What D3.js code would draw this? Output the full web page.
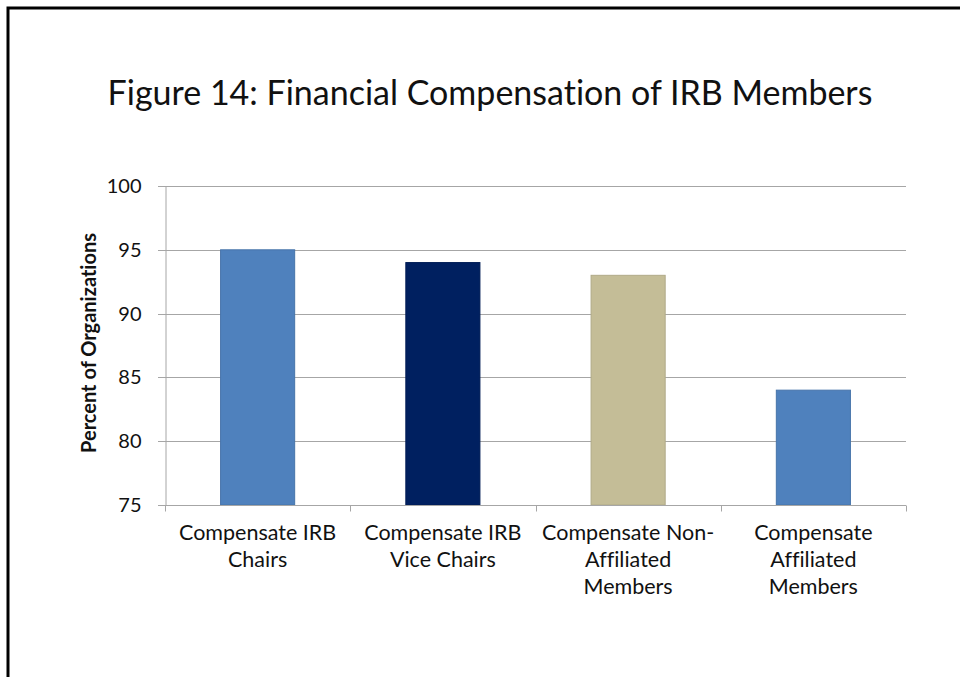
<!DOCTYPE html>
<html>
<head>
<meta charset="utf-8">
<script src="https://cdn.jsdelivr.net/npm/d3@7"></script>
<style>
  body { margin: 0; background: #ffffff; }
  svg { display: block; font-family: Lato, "Open Sans", sans-serif; font-variant-ligatures: none; }
</style>
</head>
<body>
<div class="chart"></div>
<script>
// data
var categories = [
  ["Compensate IRB", "Chairs"],
  ["Compensate IRB", "Vice Chairs"],
  ["Compensate Non-", "Affiliated", "Members"],
  ["Compensate", "Affiliated", "Members"]
];
var values = [95, 94, 93, 84];
var barColors = ["#4f81bd", "#002060", "#c4bd97", "#4f81bd"];
var yTicks = [75, 80, 85, 90, 95, 100];

var width = 960, height = 677;
var plot = { left: 165, right: 906, top: 186, bottom: 505 };

var svg = d3.select(".chart")
  .append("svg")
  .attr("width", width)
  .attr("height", height);

// frame
svg.append("polyline")
  .attr("points", "8,677 8,8 960,8")
  .attr("fill", "none")
  .attr("stroke", "#000")
  .attr("stroke-width", 3);

// title
svg.append("text")
  .attr("x", 490)
  .attr("y", 105)
  .attr("text-anchor", "middle")
  .attr("font-size", "34px")
  .attr("fill", "#111")
  .text("Figure 14: Financial Compensation of IRB Members");

var x = d3.scaleBand()
  .domain(d3.range(categories.length))
  .range([plot.left, plot.right])
  .paddingInner(0.6)
  .paddingOuter(0.3);

var xOuter = d3.scaleBand()
  .domain(d3.range(categories.length))
  .range([plot.left, plot.right]);

var y = d3.scaleLinear()
  .domain([75, 100])
  .range([plot.bottom, plot.top]);

// gridlines
svg.append("g")
  .selectAll("line")
  .data(yTicks)
  .enter()
  .append("line")
  .attr("x1", plot.left - 7)
  .attr("x2", plot.right)
  .attr("y1", function(d){ return Math.round(y(d)) + 0.5; })
  .attr("y2", function(d){ return Math.round(y(d)) + 0.5; })
  .attr("stroke", "#a6a6a6")
  .attr("stroke-width", 1);

// y axis
var yAxis = svg.append("g")
  .attr("transform", "translate(" + (plot.left + 0.5) + ",0)")
  .call(d3.axisLeft(y).tickValues(yTicks).tickSize(0).tickPadding(24));
yAxis.select(".domain").attr("stroke", "#a6a6a6");
yAxis.selectAll("text")
  .attr("font-size", "20px")
  .attr("font-family", "Lato, sans-serif")
  .attr("fill", "#111");

// bars
svg.append("g")
  .selectAll("rect")
  .data(values)
  .enter()
  .append("rect")
  .attr("x", function(d, i){ return x(i); })
  .attr("width", x.bandwidth())
  .attr("y", function(d){ return y(d); })
  .attr("height", function(d){ return y(75) - y(d); })
  .attr("fill", function(d, i){ return barColors[i]; })
  .attr("stroke", function(d, i){ return d3.color(barColors[i]).darker(0.3); })
  .attr("stroke-width", 1);

// x axis
var xAxisG = svg.append("g")
  .attr("transform", "translate(0," + (Math.round(plot.bottom) + 0.5) + ")");
xAxisG.append("line")
  .attr("x1", plot.left)
  .attr("x2", plot.right)
  .attr("stroke", "#a6a6a6");
xAxisG.selectAll(".tick")
  .data(d3.range(categories.length + 1))
  .enter()
  .append("line")
  .attr("x1", function(i){ return Math.round(plot.left + i * xOuter.bandwidth()) + 0.5; })
  .attr("x2", function(i){ return Math.round(plot.left + i * xOuter.bandwidth()) + 0.5; })
  .attr("y1", 0)
  .attr("y2", 6)
  .attr("stroke", "#a6a6a6");

// category labels
var catText = svg.append("g")
  .selectAll("text")
  .data(categories)
  .enter()
  .append("text")
  .attr("text-anchor", "middle")
  .attr("font-size", "21.5px")
  .attr("fill", "#111");
catText.selectAll("tspan")
  .data(function(d, i){ return d.map(function(s){ return { s: s, i: i }; }); })
  .enter()
  .append("tspan")
  .attr("x", function(d){ return xOuter(d.i) + xOuter.bandwidth() / 2; })
  .attr("y", function(d, j){ return 540 + j * 27; })
  .text(function(d){ return d.s; });

// y axis title
svg.append("text")
  .attr("transform", "translate(96,343) rotate(-90)")
  .attr("text-anchor", "middle")
  .attr("font-size", "20px")
  .attr("font-weight", "bold")
  .attr("fill", "#111")
  .text("Percent of Organizations");
</script>
</body>
</html>
